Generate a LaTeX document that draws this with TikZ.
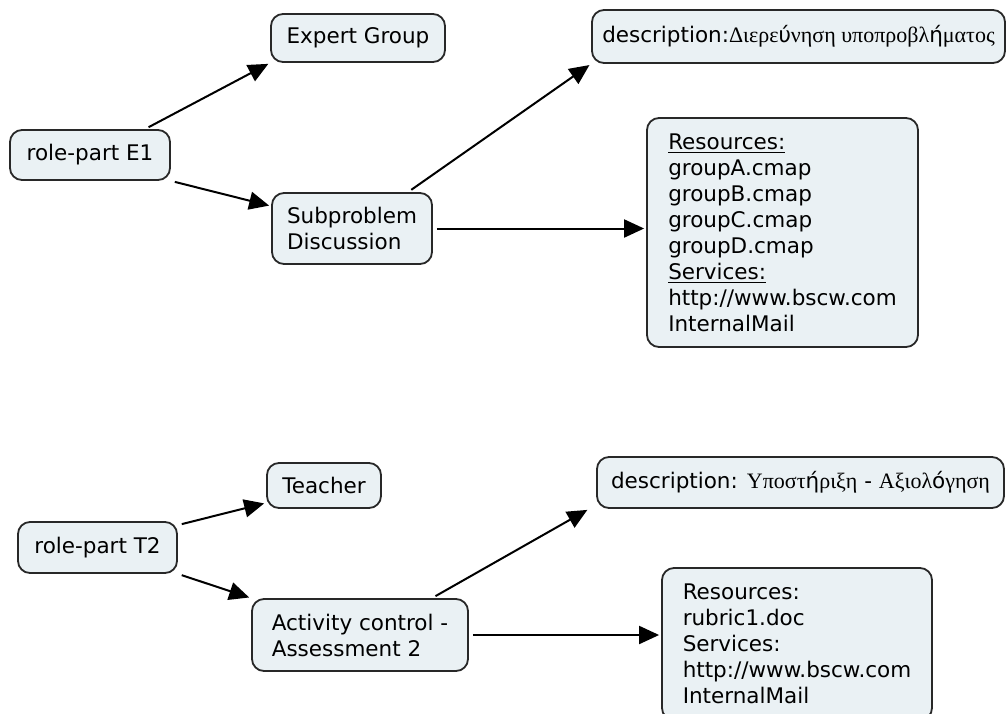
\documentclass[tikz,border=0pt]{standalone}
\usepackage{fontspec}
\setmainfont{DejaVu Sans}
\newfontfamily\grkfont{Liberation Serif}
\newcommand{\grk}[1]{{\grkfont\fontsize{11}{13}\selectfont #1}}
\usetikzlibrary{arrows.meta}

\definecolor{conceptfill}{RGB}{234,241,244}
\definecolor{conceptline}{RGB}{40,40,40}

\begin{document}
\begin{tikzpicture}[x=0.5pt,y=-0.5pt,
    concept/.style={draw=conceptline, line width=0.9pt, fill=conceptfill,
      rounded corners=6pt, inner sep=0pt, align=left,
      font=\fontsize{10.75}{13}\selectfont},
    link/.style={line width=1pt, -{Triangle[length=10pt,width=9pt]},
      shorten <=2pt, shorten >=1pt}]
    \fill[white] (0,0) rectangle (1007,713);
    \useasboundingbox (0,0) rectangle (1007,713);

    % expert role
    \node[concept, minimum width=80pt, minimum height=25pt] (rpE) at (90,155) {role-part E1};
    \node[concept, minimum width=87pt, minimum height=24pt] (expert) at (358,38) {Expert Group};
    \node[concept, minimum width=80pt, minimum height=35.5pt] (subp) at (352,228.5) {Subproblem\\Discussion};
    \node[concept, minimum width=206.5pt, minimum height=26.5pt] (descA) at (798.5,36.5)
      {description:\grk{Διερε}ύ\grk{νηση υποπροβλ}ή\grk{ματος}};
    \node[concept, minimum width=135.5pt, minimum height=114.5pt] (resA) at (782.5,232.5)
      {\underline{Resources:}\\groupA.cmap\\groupB.cmap\\groupC.cmap\\groupD.cmap\\
       \underline{Services:}\\http://www.bscw.com\\InternalMail};

    % teacher role
    \node[concept, minimum width=79.5pt, minimum height=25.5pt] (rpT) at (97.5,547.5) {role-part T2};
    \node[concept, minimum width=57pt, minimum height=22.5pt] (teacher) at (324,485.5) {Teacher};
    \node[concept, minimum width=108pt, minimum height=36pt] (act) at (360,635) {Activity control -\\Assessment 2};
    \node[concept, minimum width=203.5pt, minimum height=25.5pt] (descB) at (800.5,482.5)
      {description: \grk{Υποστ}ή\grk{ριξη} - \grk{Αξιολ}ό\grk{γηση}};
    \node[concept, minimum width=135pt, minimum height=76pt] (resB) at (797,644)
      {Resources:\\rubric1.doc\\Services:\\http://www.bscw.com\\InternalMail};

    \draw[link] ([xshift=27.5pt]rpE.north) -- (expert.south west);
    \draw[link] (rpE.south east) -- ([yshift=-7pt]subp.north west);
    \draw[link] ([xshift=28pt]subp.north) -- (descA.south west);
    \draw[link] (subp.east) -- (subp.east -| resA.west);

    \draw[link] ([yshift=-2pt]rpT.north east) -- ([yshift=3pt]teacher.south west);
    \draw[link] (rpT.south east) -- (act.north west);
    \draw[link] ([xshift=36pt]act.north) -- ([xshift=-3.5pt]descB.south west);
    \draw[link] (act.east) -- (act.east -| resB.west);
\end{tikzpicture}
\end{document}
